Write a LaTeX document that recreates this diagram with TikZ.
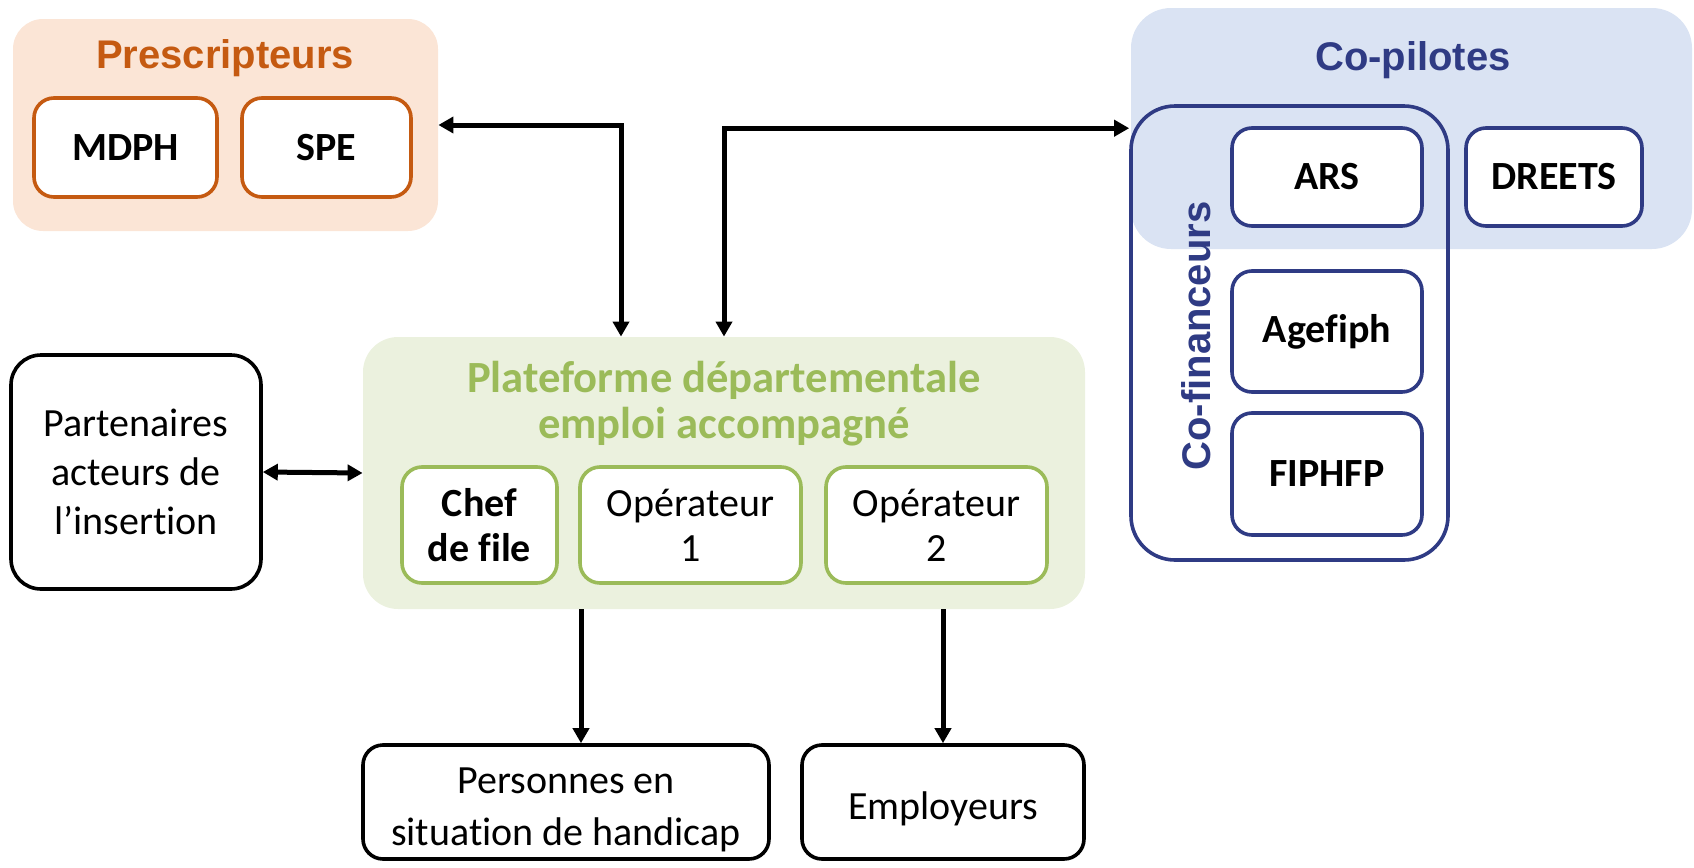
\documentclass[tikz,border=0pt]{standalone}
\usepackage{fontspec}
\setmainfont{Carlito}[Ligatures=NoCommon]
\newfontfamily\arialf{Liberation Sans}
\usetikzlibrary{arrows.meta}
\definecolor{orng}{HTML}{C55A11}
\definecolor{orngfill}{HTML}{FBE5D6}
\definecolor{navy}{HTML}{2F3B84}
\definecolor{bluefill}{HTML}{DAE3F3}
\definecolor{grn}{HTML}{9BBB59}
\definecolor{grnfill}{HTML}{EBF1DE}
\begin{document}
\begin{tikzpicture}[x=0.5pt,y=-0.5pt,
  >={Triangle[length=7.5pt,width=8pt]},
  conn/.style={line width=2.5pt,black},
  box/.style={rectangle, draw, line width=1.8pt, fill=white, align=center, inner sep=0pt,
    rounded corners=10pt, font=\fontsize{20pt}{23pt}\selectfont},
  grp/.style={rectangle, inner sep=0pt, rounded corners=16pt},
  grptitle/.style={font=\arialf\bfseries\fontsize{20pt}{24pt}\selectfont, anchor=base},
  obox/.style={box, draw=orng},
  bbox/.style={box, draw=navy},
  gbox/.style={box, draw=grn},
  kbox/.style={box, draw=black}
]
\useasboundingbox (0,0) rectangle (1694,868);

% Prescripteurs
\node[grp, fill=orngfill, minimum width=212.5pt, minimum height=106pt, rounded corners=15pt] (presc) at (225.5,125) {};
\node[grptitle, text=orng] (prescT) at (225,68) {Prescripteurs};
\node[obox, minimum width=91.5pt, minimum height=49.5pt, font=\bfseries\fontsize{20pt}{23pt}\selectfont] (mdph) at (125.5,147.5) {MDPH};
\node[obox, minimum width=84.5pt, minimum height=49.5pt, font=\bfseries\fontsize{20pt}{23pt}\selectfont] (spe) at (326.5,147.5) {SPE};

% Co-pilotes
\node[grp, fill=bluefill, minimum width=280.5pt, minimum height=120.5pt, rounded corners=20pt] (copil) at (1411.5,128.5) {};
\node[grptitle, text=navy] (copilT) at (1413,70) {Co-pilotes};
\node[rectangle, draw=navy, line width=1.8pt, rounded corners=22pt, minimum width=158.5pt, minimum height=227pt, inner sep=0pt] (cofin) at (1289.5,333) {};
\node[font=\arialf\bfseries\fontsize{20pt}{24pt}\selectfont, text=navy, rotate=90, anchor=base] (cofinT) at (1210,336) {Co-financeurs};
\node[bbox, minimum width=95pt, minimum height=49pt, font=\bfseries\fontsize{20pt}{23pt}\selectfont] (ars) at (1327,177) {ARS};
\node[bbox, minimum width=88pt, minimum height=49pt, font=\bfseries\fontsize{20pt}{23pt}\selectfont] (dreets) at (1554,177) {DREETS};
\node[bbox, minimum width=95pt, minimum height=60.5pt, font=\bfseries\fontsize{20pt}{23pt}\selectfont] (agef) at (1327,331.5) {Agefiph};
\node[bbox, minimum width=95pt, minimum height=61pt, font=\bfseries\fontsize{20pt}{23pt}\selectfont] (fiph) at (1327,474) {FIPHFP};

% Plateforme
\node[grp, fill=grnfill, minimum width=361pt, minimum height=136pt, rounded corners=17.5pt] (plat) at (724,473) {};
\node[font=\bfseries\fontsize{22.3pt}{23pt}\selectfont, text=grn, align=center, inner sep=0pt] (platT) at (724,404) {Plateforme départementale\\emploi accompagné};
\node[gbox, minimum width=77.5pt, minimum height=58pt, font=\bfseries\fontsize{20pt}{22.5pt}\selectfont] (chef) at (479.5,525) {Chef\\de file};
\node[gbox, minimum width=110.5pt, minimum height=58pt, font=\fontsize{20pt}{22.5pt}\selectfont] (op1) at (690.5,525) {Opérateur\\1};
\node[gbox, minimum width=110.5pt, minimum height=58pt, font=\fontsize{20pt}{22.5pt}\selectfont] (op2) at (936.5,525) {Opérateur\\2};

% Others
\node[kbox, minimum width=125pt, minimum height=117pt, rounded corners=15pt, font=\fontsize{20pt}{24.4pt}\selectfont] (part) at (136,472) {Partenaires\\acteurs de\\l’insertion};
\node[kbox, minimum width=203pt, minimum height=57pt, text height=47pt, font=\fontsize{20pt}{26pt}\selectfont] (pers) at (566,802) {Personnes en\\situation de handicap};
\node[kbox, minimum width=141pt, minimum height=57pt, text height=21pt] (emp) at (943,802) {Employeurs};

% Connectors
\draw[conn,<->] (presc.east) -| ([xshift=-51.5pt]plat.north);
\draw[conn,<->] (plat.north) |- ([yshift=-12pt]cofin.north west);
\draw[conn,<->] (part.east) -- (plat.west);
\draw[conn,->] ([xshift=-71.5pt]plat.south) -- ([xshift=-71.5pt]plat.south |- pers.north);
\draw[conn,->] (plat.south -| emp.north) -- (emp.north);
\end{tikzpicture}
\end{document}
